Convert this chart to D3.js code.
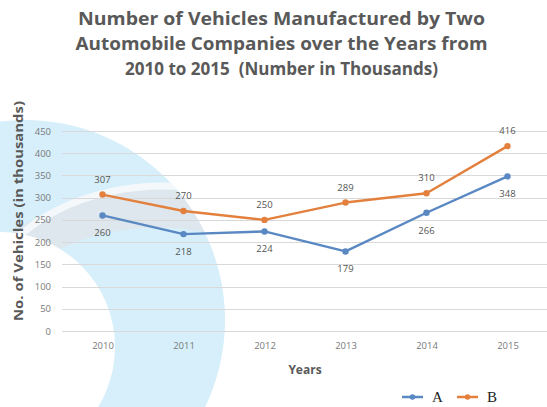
<!DOCTYPE html>
<html>
<head>
<meta charset="utf-8">
<script src="https://cdn.jsdelivr.net/npm/d3@7/dist/d3.min.js"></script>
<style>
  html, body { margin: 0; padding: 0; background: #fff; }
  svg { display: block; }
  .keep { white-space: pre; }
</style>
</head>
<body>
<svg id="chart" width="547" height="407"></svg>
<script>
// ---- data ----
const years = ["2010", "2011", "2012", "2013", "2014", "2015"];
const seriesA = [260, 218, 224, 179, 266, 348];
const seriesB = [307, 270, 250, 289, 310, 416];
const yTicks = [0, 50, 100, 150, 200, 250, 300, 350, 400, 450];
const seriesNames = ["A", "B"];
const titleLines = [
  "Number of Vehicles Manufactured by Two",
  "Automobile Companies over the Years from",
  "2010 to 2015  (Number in Thousands)"
];

// ---- layout ----
const W = 547, H = 407;
const plot = { left: 62, right: 548, top: 131, bottom: 331 };
const colors = { A: "#5a88c2", B: "#e3803e" };

const svg = d3.select("#chart");

// background watermark (decorative)
const defs = svg.append("defs");
defs.append("clipPath").attr("id", "wmclip")
  .append("circle").attr("cx", 25).attr("cy", 320).attr("r", 200);
const wm = svg.append("g");
wm.append("circle").attr("cx", 25).attr("cy", 320).attr("r", 200).attr("fill", "#d6effa");
const wmInner = wm.append("g").attr("clip-path", "url(#wmclip)");
const band = d3.path();
band.moveTo(5, 262);
band.bezierCurveTo(60, 215, 150, 192, 240, 222);
wmInner.append("path").attr("d", band.toString())
  .attr("fill", "none").attr("stroke", "#dde7ed").attr("stroke-width", 38);
const swoosh = d3.path();
swoosh.moveTo(15, 240);
swoosh.bezierCurveTo(60, 195, 150, 170, 240, 198);
wmInner.append("path").attr("d", swoosh.toString())
  .attr("fill", "none").attr("stroke", "#f4f8fa").attr("stroke-width", 7);
wm.append("circle").attr("cx", 0).attr("cy", 347).attr("r", 115).attr("fill", "#ffffff");

// scales
const x = d3.scalePoint().domain(years).range([plot.left, plot.right]).padding(0.5);
const y = d3.scaleLinear().domain([0, 450]).range([plot.bottom, plot.top]);

// gridlines
svg.append("g")
  .selectAll("line")
  .data(yTicks)
  .join("line")
  .attr("x1", plot.left).attr("x2", plot.right)
  .attr("y1", d => Math.round(y(d)) + 0.5).attr("y2", d => Math.round(y(d)) + 0.5)
  .attr("stroke", "#d9d9d9").attr("stroke-width", 1);

// y axis labels
const yAxis = d3.axisLeft(y).tickValues(yTicks).tickSize(0).tickPadding(11);
const gy = svg.append("g").attr("transform", `translate(${plot.left},0)`).call(yAxis);
gy.select(".domain").remove();
gy.selectAll("text").attr("font-family", "Open Sans").attr("font-size", 9.5).attr("fill", "#7a7a7a");

// x axis labels
const xAxis = d3.axisBottom(x).tickSize(0).tickPadding(11);
const gx = svg.append("g").attr("transform", `translate(0,${plot.bottom})`).call(xAxis);
gx.select(".domain").remove();
gx.selectAll("text").attr("font-family", "Open Sans").attr("font-size", 9.5).attr("fill", "#7a7a7a");

// lines
const series = [
  { name: "A", values: seriesA },
  { name: "B", values: seriesB }
];
const line = d3.line().x((d, i) => x(years[i])).y(d => y(d));

series.forEach(s => {
  const g = svg.append("g");
  g.append("path")
    .attr("d", line(s.values))
    .attr("fill", "none")
    .attr("stroke", colors[s.name])
    .attr("stroke-width", 2.4)
    .attr("stroke-linejoin", "round");
  g.selectAll("circle")
    .data(s.values)
    .join("circle")
    .attr("cx", (d, i) => x(years[i]))
    .attr("cy", d => y(d))
    .attr("r", 3.2)
    .attr("fill", colors[s.name]);
  g.selectAll("text")
    .data(s.values)
    .join("text")
    .attr("x", (d, i) => x(years[i]))
    .attr("y", d => s.name === "B" ? y(d) - 12 : y(d) + 21)
    .attr("text-anchor", "middle")
    .attr("font-family", "Open Sans")
    .attr("font-size", 9.5)
    .attr("fill", "#555")
    .text(d => d);
});

// title
const title = svg.append("g");
const titleWidths = [407, 412, 313];
titleLines.forEach((t, i) => {
  title.append("text")
    .attr("class", "keep")
    .attr("x", 281.5)
    .attr("y", 25 + i * 25)
    .attr("text-anchor", "middle")
    .attr("font-family", "Open Sans")
    .attr("font-weight", "bold")
    .attr("font-size", 17)
    .attr("fill", "#595959")
    .attr("textLength", titleWidths[i])
    .attr("lengthAdjust", "spacingAndGlyphs")
    .text(t);
});

// axis titles
svg.append("text")
  .attr("transform", "translate(23,211) rotate(-90)")
  .attr("text-anchor", "middle")
  .attr("font-family", "Open Sans")
  .attr("font-weight", "bold")
  .attr("font-size", 12.5)
  .attr("fill", "#595959")
  .attr("textLength", 220)
  .attr("lengthAdjust", "spacingAndGlyphs")
  .text("No. of Vehicles (in thousands)");

svg.append("text")
  .attr("x", 305)
  .attr("y", 374)
  .attr("text-anchor", "middle")
  .attr("font-family", "Open Sans")
  .attr("font-weight", "bold")
  .attr("font-size", 12)
  .attr("fill", "#595959")
  .text("Years");

// legend
const legend = svg.append("g").attr("transform", "translate(402,397)");
const legItems = legend.selectAll("g").data(seriesNames).join("g")
  .attr("transform", (d, i) => `translate(${i * 55},0)`);
legItems.append("line")
  .attr("x1", 0).attr("x2", 21).attr("y1", 0).attr("y2", 0)
  .attr("stroke", d => colors[d]).attr("stroke-width", 2.5);
legItems.append("circle")
  .attr("cx", 10.5).attr("cy", 0).attr("r", 2.8)
  .attr("fill", d => colors[d]);
legItems.append("text")
  .attr("x", 30).attr("y", 5)
  .attr("font-family", "Liberation Serif")
  .attr("font-size", 15)
  .attr("fill", "#222")
  .text(d => d);
</script>
</body>
</html>
